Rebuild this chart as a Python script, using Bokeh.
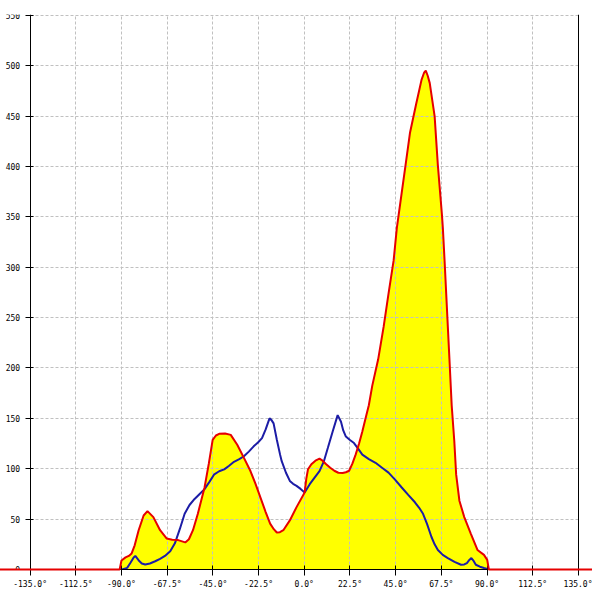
from bokeh.plotting import figure
from bokeh.models import Range1d, LinearAxis, FixedTicker, PrintfTickFormatter
from bokeh.embed import file_html
from bokeh.resources import INLINE

# ---- data ----
red_deg = [-180, -90.9, -90.0, -88.0, -86.4, -85.0, -83.5, -81.55, -79.1, -77.2, -74.3, -71.0,
           -67.8, -65.0, -62.1, -58.6, -56.8, -54.8, -52.4, -49.1, -47.0, -45.1, -43.5, -41.9,
           -39.0, -36.2, -33.0, -29.7, -26.5, -24.0, -21.6, -19.0, -16.8, -15.0, -13.5, -12.0,
           -10.3, -7.1, -3.8, 0.2, 1.0, 1.85, 3.5, 5.5, 7.5, 9.0, 10.8, 12.8, 14.8, 16.8, 18.9,
           20.5, 22.1, 23.7, 25.3, 27.0, 28.6, 30.2, 31.8, 33.5, 36.4, 39.1, 41.5, 44.0, 45.6,
           48.0, 50.0, 52.1, 55.0, 57.75, 59.0, 59.85, 60.8, 61.8, 64.2, 65.8, 67.8, 68.25, 69.1,
           69.9, 70.7, 71.5, 72.6, 73.9, 74.8, 76.4, 78.8, 82.0, 85.3, 88.5, 90.1, 90.9, 180]
red_val = [0, 0, 9, 12, 13.5, 16, 24, 39, 53.6, 57.9, 52, 39,
           30.8, 29.5, 29.2, 26.9, 30, 39, 55.3, 81.4, 105, 128.7, 133, 134.6,
           135, 133.6, 123.8, 110.8, 97.7, 85, 71.6, 57, 45.5, 40, 36.7, 37,
           39, 48.7, 61.9, 76.5, 90, 99.5, 104.5, 108, 110, 108, 104.5, 101, 98, 96, 95.7,
           96.5, 98, 105, 114, 125, 137, 150, 163, 182.5, 208.6, 241, 273.8, 306.5, 339,
           374, 403, 433.7, 461, 485.9, 493, 495, 490, 482.7, 450, 401, 352, 339, 306.5,
           273.8, 241, 208.6, 163, 127, 94.4, 68.3, 52, 35.7, 19.4, 14.5, 9.6, 0, 0]

blue_deg = [-89.7, -87.2, -85.5, -84.0, -83.2, -81.5, -80.0, -78.3, -76.0, -73.4, -71.0, -68.6,
            -66.0, -63.7, -61.3, -58.9, -56.5, -54.0, -51.5, -49.1, -46.7, -44.3, -41.9, -39.4,
            -37.0, -34.6, -32.0, -29.7, -27.3, -24.9, -22.8, -20.8, -19.0, -17.1, -16.2, -15.1,
            -13.5, -11.9, -11.1, -9.0, -7.1, -5.5, -3.8, -1.8, 0.2, 2.7, 5.0, 7.5, 9.6, 11.6,
            14.0, 16.45, 18.1, 19.2, 20.5, 22.5, 24.5, 26.5, 28.6, 31.8, 35.1, 38.3, 41.5, 44.8,
            48.0, 51.2, 54.5, 56.5, 58.5, 60.5, 62.6, 64.2, 65.8, 68.2, 70.7, 74.0, 77.2, 78.8,
            80.1, 81.3, 82.3, 83.4, 84.5, 86.5, 88.5, 90.9]
blue_val = [0, 1.6, 7, 12, 13.5, 9, 6, 4.9, 6, 8.2, 10.5, 13.5,
            18, 26, 40, 55.4, 64, 70, 75, 79.8, 87, 94.5, 97.5, 99.4,
            103, 106.9, 109.5, 112.4, 117, 122.2, 126, 130.4, 139, 150, 148.5, 145,
            128.7, 114, 107.5, 96, 87.9, 85, 83, 80, 76.5, 84.7, 91, 97.7, 107, 120.6,
            137, 153.2, 146.6, 138, 131.9, 128.5, 125.5, 120, 114, 109.5, 105.9, 101, 96.1, 89,
            81.4, 74, 66.7, 61.5, 55.3, 45, 32.5, 25, 19.4, 14.5, 11.3, 7.5, 4.7, 5.0,
            6.4, 9.5, 11.3, 8.5, 4.7, 2.8, 1.5, 0]

x_ticks = [-135, -112.5, -90, -67.5, -45, -22.5, 0, 22.5, 45, 67.5, 90, 112.5, 135]
y_ticks = [0, 50, 100, 150, 200, 250, 300, 350, 400, 450, 500, 550]

# ---- layout ----
W, H = 592, 592
AX_L = 29.6           # px position of -135 (left axis)
AX_R = 577.9          # px position of +135 (right line)
K = (AX_R - AX_L) / 270.0
x0 = -135 - AX_L / K
x1 = x0 + W / K

TOP, BOTTOM = 14, 23
y_top = 550 + 0.8 / ((H - TOP - BOTTOM) / 550.0)

FONT = "DejaVu Sans Mono"
FS = "8px"

p = figure(width=W, height=H, output_backend="svg", toolbar_location=None,
           x_range=Range1d(x0, x1), y_range=Range1d(0, y_top),
           x_axis_location=None, y_axis_location=None,
           min_border_left=0, min_border_right=0, min_border_top=TOP, min_border_bottom=BOTTOM)
p.outline_line_color = None
p.background_fill_color = "white"
p.border_fill_color = "white"

# grids
for g in p.xgrid:
    g.ticker = FixedTicker(ticks=x_ticks[1:-1])
for g in p.ygrid:
    g.ticker = FixedTicker(ticks=y_ticks[1:])
    if "cross_bounds" in g.properties():
        g.cross_bounds = (-135, 135)
for g in list(p.xgrid) + list(p.ygrid):
    g.grid_line_color = "#c0c0c0"
    g.grid_line_dash = "3 2"
    g.grid_line_width = 1

# axes
xaxis = LinearAxis(ticker=FixedTicker(ticks=x_ticks),
                   formatter=PrintfTickFormatter(format="%.1f°"))
xaxis.axis_line_color = "black"
xaxis.major_tick_line_color = "black"
xaxis.major_tick_in = 4
xaxis.major_tick_out = 6
xaxis.minor_tick_line_color = None
xaxis.major_label_standoff = 4
xaxis.major_label_text_font = FONT
xaxis.major_label_text_font_size = FS
xaxis.major_label_text_color = "black"
p.add_layout(xaxis, "below")

yaxis = LinearAxis(ticker=FixedTicker(ticks=y_ticks), fixed_location=-135)
yaxis.axis_line_color = "black"
yaxis.major_tick_line_color = "black"
yaxis.major_tick_in = 3
yaxis.major_tick_out = 5
yaxis.minor_tick_line_color = None
yaxis.major_label_standoff = 5
yaxis.major_label_text_font = FONT
yaxis.major_label_text_font_size = FS
yaxis.major_label_text_color = "black"
p.add_layout(yaxis, "left")

raxis = LinearAxis(ticker=FixedTicker(ticks=[]), fixed_location=135)
raxis.axis_line_color = "black"
raxis.major_tick_line_color = None
raxis.minor_tick_line_color = None
raxis.major_label_text_font_size = "0px"
p.add_layout(raxis, "right")

# data
p.varea(x=red_deg, y1=[0] * len(red_val), y2=red_val, fill_color="#ffff00", level="image")
p.line(blue_deg, blue_val, line_color="#1c1ca6", line_width=2)
p.line(red_deg, red_val, line_color="#e60000", line_width=2, level="overlay")

open("out.html", "w").write(file_html(p, INLINE))
